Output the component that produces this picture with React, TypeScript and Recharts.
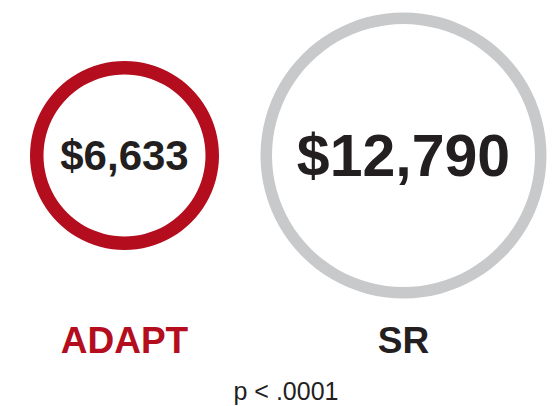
import React from 'react';
import { PieChart, Pie, Cell } from 'recharts';

// costs per group
const groups = ['ADAPT', 'SR'];
const costs = [6633, 12790];
const pValue = 'p < .0001';

const RED = '#b30d1e';
const GREY = '#c8c9cb';
const INK = '#231f20';
const FONT = '"Liberation Sans", Arial, Helvetica, sans-serif';

const fmt = (v: number) => '$' + v.toLocaleString('en-US');

const makeLabel = (valueSize: number, nameColor: string) => (props: any) => {
    const { cx, cy, name, value } = props;
    return (
        <g>
            <text
                x={cx}
                y={cy + valueSize * 0.35}
                textAnchor="middle"
                fontFamily={FONT}
                fontWeight="bold"
                fontSize={valueSize}
                fill={INK}
            >
                {fmt(value)}
            </text>
            <text
                x={cx}
                y={353}
                textAnchor="middle"
                fontFamily={FONT}
                fontWeight="bold"
                fontSize={37}
                fill={nameColor}
            >
                {name}
            </text>
        </g>
    );
};

const App: React.FC = () => {
    const adapt = [{ name: groups[0], value: costs[0] }];
    const sr = [{ name: groups[1], value: costs[1] }];

    return (
        <div style={{ position: 'absolute', left: 0, top: 0, width: 560, height: 406, background: '#fff' }}>
            <PieChart width={560} height={406} margin={{ top: 0, right: 0, bottom: 0, left: 0 }}>
                <Pie
                    data={adapt}
                    dataKey="value"
                    nameKey="name"
                    cx={124.5}
                    cy={155.5}
                    innerRadius={81}
                    outerRadius={94.5}
                    startAngle={90}
                    endAngle={-270}
                    stroke="none"
                    isAnimationActive={false}
                    labelLine={false}
                    label={makeLabel(42, RED)}
                >
                    <Cell fill={RED} />
                </Pie>
                <Pie
                    data={sr}
                    dataKey="value"
                    nameKey="name"
                    cx={403.5}
                    cy={155.5}
                    innerRadius={131.5}
                    outerRadius={143}
                    startAngle={90}
                    endAngle={-270}
                    stroke="none"
                    isAnimationActive={false}
                    labelLine={false}
                    label={makeLabel(59, INK)}
                >
                    <Cell fill={GREY} />
                </Pie>
                <text x={286} y={400} textAnchor="middle" fontFamily={FONT} fontSize={25} fill={INK}>
                    {pValue}
                </text>
            </PieChart>
        </div>
    );
};

export default App;
